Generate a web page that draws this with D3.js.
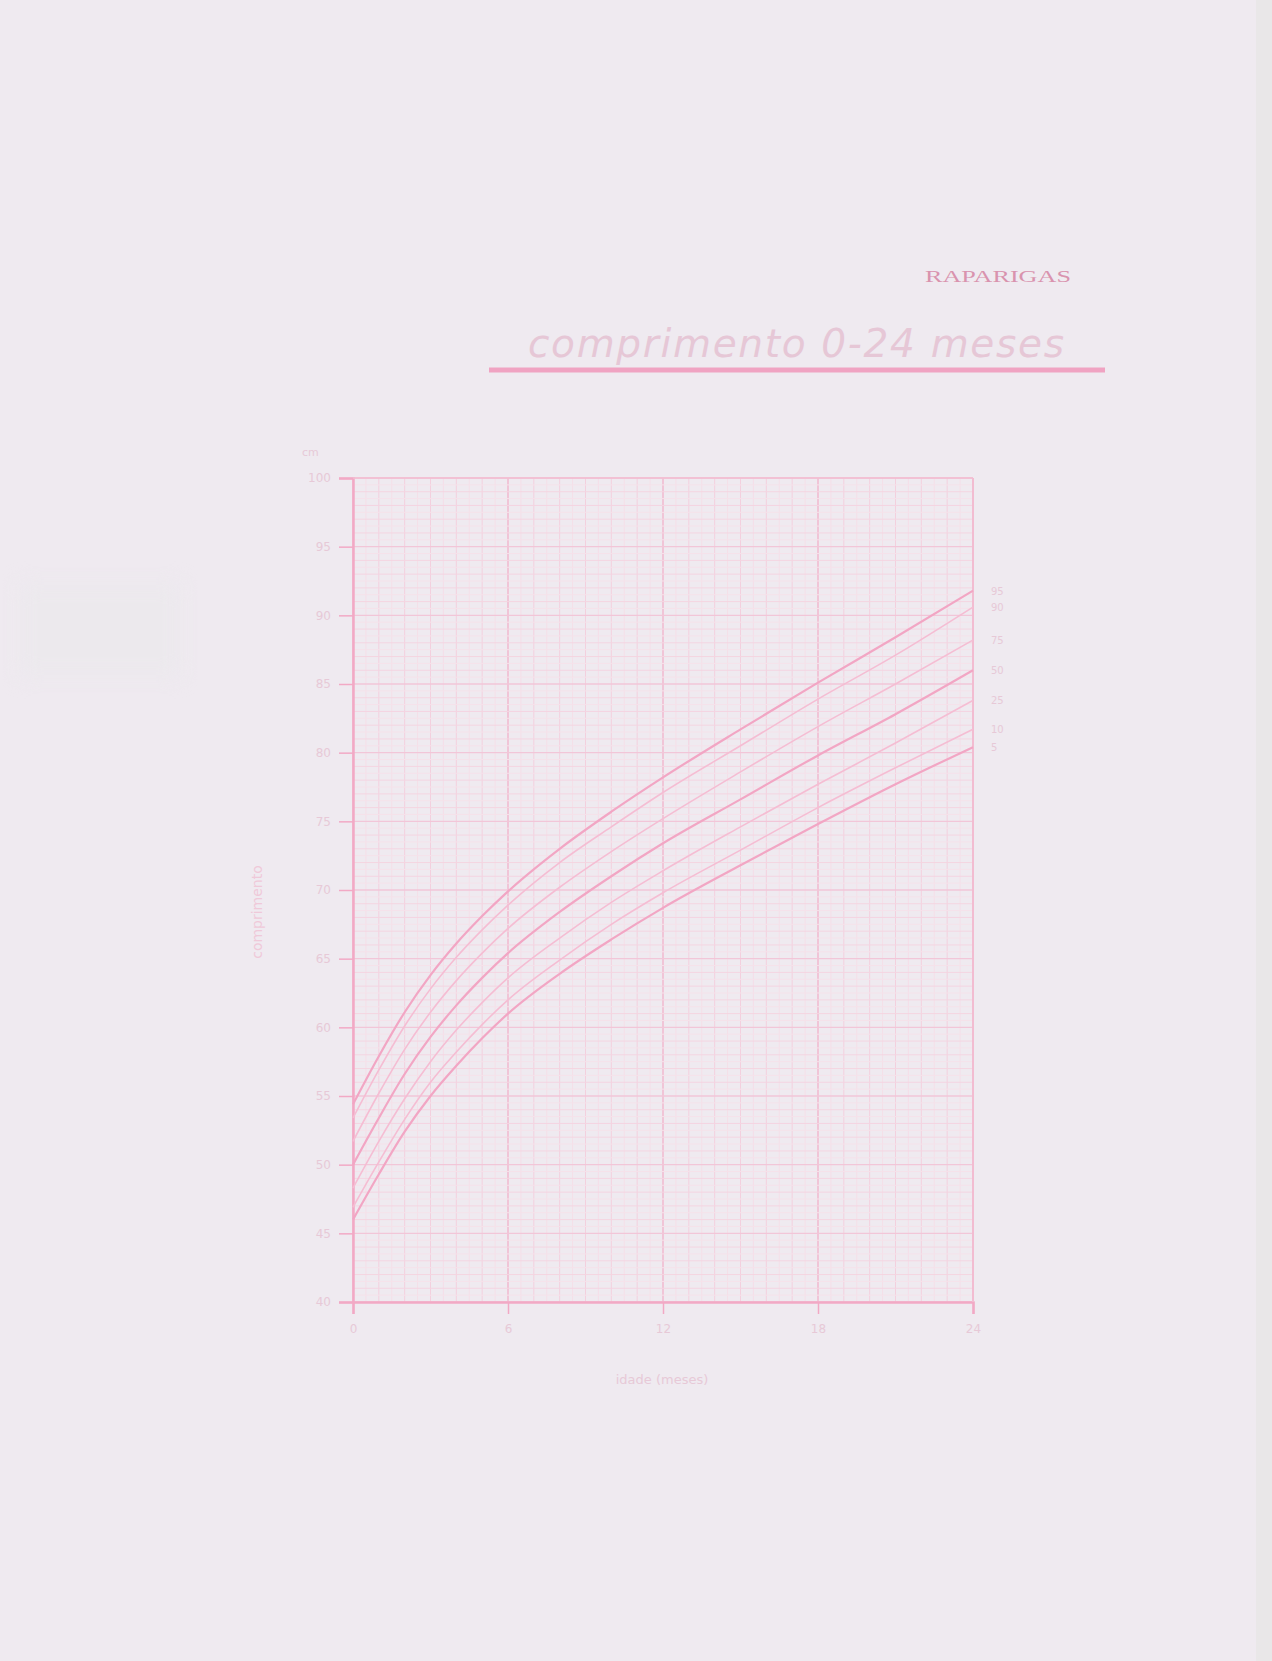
<!DOCTYPE html>
<html>
<head>
<meta charset="utf-8">
<script src="https://cdn.jsdelivr.net/npm/d3@7"></script>
<style>
  body { margin: 0; background: #efeaf0; }
  svg { display: block; }
</style>
</head>
<body>
<svg id="chart"></svg>
<script>
// ages in months
const months = [0, 1, 2, 3, 4, 5, 6, 8, 10, 12, 15, 18, 21, 24];
// length (cm) per percentile
const p95 = [54.4, 57.9, 61.1, 63.8, 66.1, 68.1, 69.9, 73.0, 75.7, 78.2, 81.7, 85.1, 88.4, 91.8];
const p90 = [53.4, 56.9, 60.1, 62.8, 65.1, 67.1, 68.9, 72.0, 74.6, 77.1, 80.5, 83.9, 87.1, 90.6];
const p75 = [51.7, 55.2, 58.4, 61.1, 63.4, 65.4, 67.2, 70.2, 72.8, 75.2, 78.6, 81.9, 85.0, 88.2];
const p50 = [50.0, 53.4, 56.6, 59.3, 61.6, 63.6, 65.4, 68.4, 71.0, 73.4, 76.6, 79.8, 82.8, 86.0];
const p25 = [48.3, 51.7, 54.8, 57.5, 59.8, 61.8, 63.6, 66.5, 69.1, 71.4, 74.6, 77.7, 80.7, 83.8];
const p10 = [46.9, 50.2, 53.3, 56.0, 58.2, 60.2, 62.0, 64.9, 67.5, 69.8, 72.9, 76.0, 78.9, 81.7];
const p5  = [46.0, 49.3, 52.4, 55.0, 57.2, 59.2, 61.0, 63.9, 66.4, 68.7, 71.8, 74.8, 77.7, 80.4];
const percentileLabels = ["95", "90", "75", "50", "25", "10", "5"];
const xTicks = [0, 6, 12, 18, 24];
const yTicks = [40, 45, 50, 55, 60, 65, 70, 75, 80, 85, 90, 95, 100];

const W = 1272, H = 1661;
const pink = "#f2a9c5";
const faint = "#e7c9d7";

const svg = d3.select("#chart").attr("width", W).attr("height", H);

svg.append("rect").attr("width", W).attr("height", H).attr("fill", "#efeaf0");
// scanned page edge on the right, and a faint grey smudge on the left
svg.append("rect").attr("x", 1256).attr("width", 16).attr("height", H).attr("fill", "#e9e7e8");
svg.append("rect").attr("x", 20).attr("y", 585).attr("width", 160).attr("height", 90)
  .attr("fill", "#ece9ed").style("filter", "blur(10px)");

// header
svg.append("text")
  .attr("x", 925).attr("y", 282)
  .attr("textLength", 146).attr("lengthAdjust", "spacingAndGlyphs")
  .style("font-family", "Liberation Serif, serif").style("font-size", "16px")
  .attr("fill", "#d993ae")
  .text("RAPARIGAS");

svg.append("text")
  .attr("x", 528).attr("y", 357)
  .attr("textLength", 536).attr("lengthAdjust", "spacing")
  .style("font-family", "DejaVu Sans, sans-serif").style("font-style", "italic")
  .style("font-size", "39px")
  .attr("fill", "#e6c7d6")
  .text("comprimento 0-24 meses");

svg.append("line")
  .attr("x1", 489).attr("x2", 1105).attr("y1", 370).attr("y2", 370)
  .attr("stroke", "#f0a3c2").attr("stroke-width", 5);

// plot area
const x = d3.scaleLinear().domain([0, 24]).range([353, 973]);
const y = d3.scaleLinear().domain([40, 100]).range([1302, 478]);

const g = svg.append("g");

// graph paper grid
const vLines = d3.range(0, 24.01, 0.5);
g.selectAll(".vgrid").data(vLines).join("line")
  .attr("class", "vgrid")
  .attr("x1", d => x(d)).attr("x2", d => x(d))
  .attr("y1", y(100)).attr("y2", y(40))
  .attr("stroke", d => d % 6 === 0 ? "#f1bcd1" : (d % 1 === 0 ? "#f3d0de" : "#f5dfe8"))
  .attr("stroke-width", d => d % 6 === 0 ? 1.6 : 1);

const hLines = d3.range(40, 100.01, 0.5);
g.selectAll(".hgrid").data(hLines).join("line")
  .attr("class", "hgrid")
  .attr("x1", x(0)).attr("x2", x(24))
  .attr("y1", d => y(d)).attr("y2", d => y(d))
  .attr("stroke", d => d % 5 === 0 ? "#f2c6d8" : (d % 1 === 0 ? "#f4d5e1" : "#f5e2ea"))
  .attr("stroke-width", d => d % 5 === 0 ? 1.3 : 1);

// axes
const yAxis = d3.axisLeft(y).tickValues(yTicks).tickSize(14).tickPadding(8);
const yg = svg.append("g").attr("transform", `translate(${x(0)},0)`).call(yAxis);
const xAxis = d3.axisBottom(x).tickValues(xTicks).tickSize(12).tickPadding(10);
const xg = svg.append("g").attr("transform", `translate(0,${y(40)})`).call(xAxis);

[yg, xg].forEach(a => {
  a.select(".domain").attr("stroke", pink).attr("stroke-width", 2.5);
  a.selectAll(".tick line").attr("stroke", pink).attr("stroke-width", 1.5);
  a.selectAll(".tick text")
    .attr("fill", faint)
    .style("font-family", "DejaVu Sans, sans-serif").style("font-size", "12px");
});
// top and right border of the grid
svg.append("line").attr("x1", x(0)).attr("x2", x(24)).attr("y1", y(100)).attr("y2", y(100))
  .attr("stroke", "#f2bcd1").attr("stroke-width", 1.5);
svg.append("line").attr("x1", x(24)).attr("x2", x(24)).attr("y1", y(100)).attr("y2", y(40))
  .attr("stroke", "#f2bcd1").attr("stroke-width", 2);

svg.append("text").attr("x", 302).attr("y", 456)
  .attr("fill", faint).style("font-family", "DejaVu Sans, sans-serif").style("font-size", "11px")
  .text("cm");

svg.append("text")
  .attr("transform", "translate(262,912) rotate(-90)")
  .attr("text-anchor", "middle")
  .attr("fill", "#efc9d9").style("font-family", "DejaVu Sans, sans-serif").style("font-size", "14px")
  .text("comprimento");

svg.append("text").attr("x", 662).attr("y", 1384).attr("text-anchor", "middle")
  .attr("fill", faint).style("font-family", "DejaVu Sans, sans-serif").style("font-size", "13px")
  .text("idade (meses)");

// percentile curves
const series = [p95, p90, p75, p50, p25, p10, p5];
const line = d3.line()
  .x((d, i) => x(months[i]))
  .y(d => y(d))
  .curve(d3.curveMonotoneX);

svg.selectAll(".curve").data(series).join("path")
  .attr("class", "curve")
  .attr("d", d => line(d))
  .attr("fill", "none")
  .attr("stroke", (d, i) => (i === 0 || i === 3 || i === 6) ? "#f2a6c4" : "#f5bdd3")
  .attr("stroke-width", (d, i) => (i === 0 || i === 3 || i === 6) ? 2.2 : 1.6);

svg.selectAll(".plabel").data(series).join("text")
  .attr("class", "plabel")
  .attr("x", x(24) + 18)
  .attr("y", d => y(d[d.length - 1]) + 4)
  .attr("fill", faint)
  .style("font-family", "DejaVu Sans, sans-serif").style("font-size", "10px")
  .text((d, i) => percentileLabels[i]);
</script>
</body>
</html>
